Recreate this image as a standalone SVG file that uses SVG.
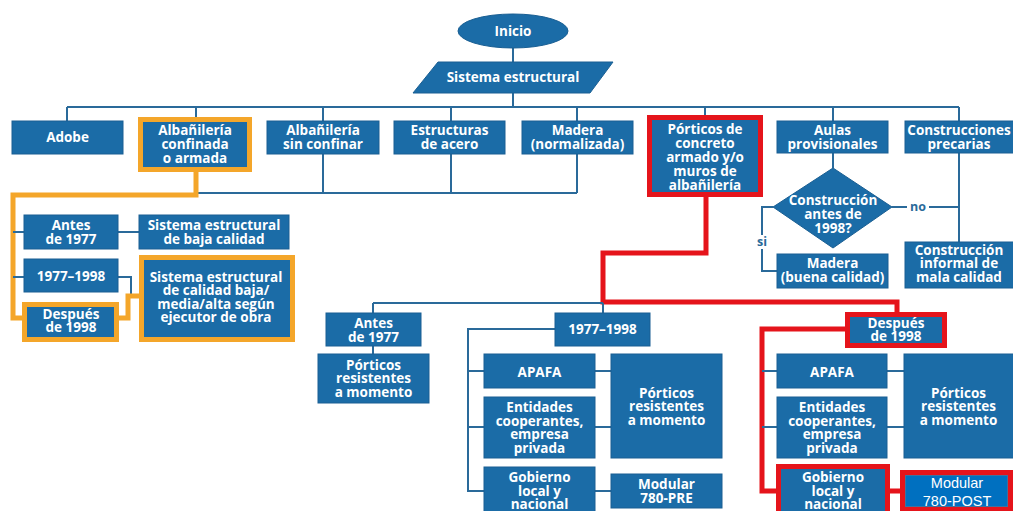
<svg xmlns="http://www.w3.org/2000/svg" width="1013" height="511" viewBox="0 0 1013 511">
<style>
.b{fill:#1b6ca7;stroke:#1a5f93;stroke-width:1}
.o{fill:#1b6ca7;stroke:#f4a62a;stroke-width:5}
.r{fill:#1b6ca7;stroke:#e5141b;stroke-width:5}
.t{font-family:"Open Sans","Noto Sans",sans-serif;font-weight:700;font-size:13.5px;fill:#ffffff;text-anchor:middle}
.lbl{font-family:"Open Sans","Noto Sans",sans-serif;font-weight:700;font-size:12.5px;fill:#2a6a9a;text-anchor:middle}
.c{fill:none;stroke:#2a6a9a;stroke-width:2}
.co{fill:none;stroke:#f4a62a;stroke-width:5}
.cr{fill:none;stroke:#e5141b;stroke-width:5}
</style>
<rect width="1013" height="511" fill="#ffffff"/>
<g id="connectors">
<path class="c" d="M513,48V62M513,93V107M67,107H959M67,107V121M196,107V117M323,107V121M451,107V121M577,107V121M705,107V115M833,107V121M959,107V121"/>
<path class="c" d="M196,193H577M323,154V193M451,154V193M577,154V193"/>
<path class="co" d="M196,172V195H13V318H24"/>
<path class="c" d="M13,232H24M13,277H24M118,232H139M118,277H131V296"/>
<path class="co" d="M117,318H128V296H141"/>
<path class="c" d="M833,153V168M892,207H907M929,207H959M959,153V242M773,207H762V235M762,249V271H777"/>
<path class="cr" d="M706,197V253H603V302H897V312"/>
<path class="c" d="M373,303H603M373,303V313M603,303V313M373,346V354"/>
<path class="c" d="M555,329H468V491H484M468,371H484M468,427H484M595,371H611M595,427H611M595,491H611"/>
<path class="cr" d="M847,329H762V491H778M888,491H902"/>
<path class="c" d="M762,371H777M762,427H777M887,371H904M887,427H904"/>
<text class="lbl" x="918" y="211">no</text>
<text class="lbl" x="762" y="246">si</text>
</g>
<g id="inicio"><ellipse cx="513" cy="31" rx="55" ry="17" class="b"/><text class="t" x="513" y="36">Inicio</text></g>
<g id="sistema"><polygon points="438,62 613,62 590,93 413,93" class="b"/><text class="t" x="513" y="82">Sistema estructural</text></g>
<g id="adobe"><rect x="12" y="121" width="111" height="33" class="b"/><text class="t" x="67.5" y="142">Adobe</text></g>
<g id="alb-conf"><rect x="140.5" y="119.5" width="109" height="50" class="o"/><text class="t" x="195"><tspan x="195" y="134.5">Albañilería</tspan><tspan x="195" y="148.5">confinada</tspan><tspan x="195" y="162.5">o armada</tspan></text></g>
<g id="alb-sin"><rect x="267" y="121" width="112" height="33" class="b"/><text class="t"><tspan x="323" y="134.5">Albañilería</tspan><tspan x="323" y="148.5">sin confinar</tspan></text></g>
<g id="acero"><rect x="394" y="121" width="111" height="33" class="b"/><text class="t"><tspan x="449.5" y="134.5">Estructuras</tspan><tspan x="449.5" y="148.5">de acero</tspan></text></g>
<g id="madera-n"><rect x="522" y="121" width="111" height="33" class="b"/><text class="t"><tspan x="577.5" y="134.5">Madera</tspan><tspan x="577.5" y="148.5">(normalizada)</tspan></text></g>
<g id="porticos"><rect x="649.5" y="117.5" width="111" height="77" class="r"/><text class="t"><tspan x="705" y="133.5">Pórticos de</tspan><tspan x="705" y="147.5">concreto</tspan><tspan x="705" y="161.5">armado y/o</tspan><tspan x="705" y="175.5">muros de</tspan><tspan x="705" y="189.5">albañilería</tspan></text></g>
<g id="aulas"><rect x="777" y="121" width="111" height="32" class="b"/><text class="t"><tspan x="832.5" y="134.5">Aulas</tspan><tspan x="832.5" y="148.5">provisionales</tspan></text></g>
<g id="precarias"><rect x="905" y="121" width="110" height="32" class="b"/><text class="t"><tspan x="959" y="134.5">Construcciones</tspan><tspan x="959" y="148.5">precarias</tspan></text></g>
<g id="decision"><polygon points="833,168 892,207 833,248 773,207" class="b"/><text class="t"><tspan x="833" y="204.5">Construcción</tspan><tspan x="833" y="218.5">antes de</tspan><tspan x="833" y="232.5">1998?</tspan></text></g>
<g id="madera-b"><rect x="777" y="254" width="111" height="34" class="b"/><text class="t"><tspan x="832.5" y="267.5">Madera</tspan><tspan x="832.5" y="281.5">(buena calidad)</tspan></text></g>
<g id="informal"><rect x="905" y="242" width="110" height="46" class="b"/><text class="t"><tspan x="959" y="254.5">Construcción</tspan><tspan x="959" y="268">informal de</tspan><tspan x="959" y="281.5">mala calidad</tspan></text></g>
<g id="l-antes"><rect x="24" y="215" width="94" height="34" class="b"/><text class="t"><tspan x="71" y="229.5">Antes</tspan><tspan x="71" y="243.5">de 1977</tspan></text></g>
<g id="l-baja"><rect x="139" y="215" width="150" height="34" class="b"/><text class="t"><tspan x="214" y="229.5">Sistema estructural</tspan><tspan x="214" y="243.5">de baja calidad</tspan></text></g>
<g id="l-7798"><rect x="24" y="259" width="94" height="33" class="b"/><text class="t" x="71" y="280.5">1977–1998</text></g>
<g id="l-despues"><rect x="24.5" y="304.5" width="92" height="35" class="o"/><text class="t"><tspan x="71" y="318.5">Después</tspan><tspan x="71" y="331.5">de 1998</tspan></text></g>
<g id="l-calidad"><rect x="141.5" y="257.5" width="151" height="82" class="o"/><text class="t"><tspan x="216" y="281.5">Sistema estructural</tspan><tspan x="216" y="295">de calidad baja/</tspan><tspan x="216" y="308.5">media/alta según</tspan><tspan x="216" y="322">ejecutor de obra</tspan></text></g>
<g id="m-antes"><rect x="326" y="313" width="95" height="33" class="b"/><text class="t"><tspan x="373.5" y="327.5">Antes</tspan><tspan x="373.5" y="341.5">de 1977</tspan></text></g>
<g id="m-porticos"><rect x="318" y="354" width="111" height="49" class="b"/><text class="t"><tspan x="373.5" y="369.5">Pórticos</tspan><tspan x="373.5" y="383">resistentes</tspan><tspan x="373.5" y="396.5">a momento</tspan></text></g>
<g id="m-7798"><rect x="555" y="313" width="95" height="33" class="b"/><text class="t" x="602.5" y="333.5">1977–1998</text></g>
<g id="m-apafa"><rect x="484" y="354" width="111" height="34" class="b"/><text class="t" x="539.5" y="376.5">APAFA</text></g>
<g id="m-entidades"><rect x="484" y="397" width="111" height="61" class="b"/><text class="t"><tspan x="539.5" y="411.5">Entidades</tspan><tspan x="539.5" y="425.5">cooperantes,</tspan><tspan x="539.5" y="439">empresa</tspan><tspan x="539.5" y="452.5">privada</tspan></text></g>
<g id="m-gobierno"><rect x="484" y="467" width="111" height="50" class="b"/><text class="t"><tspan x="539.5" y="481.5">Gobierno</tspan><tspan x="539.5" y="495.5">local y</tspan><tspan x="539.5" y="508.5">nacional</tspan></text></g>
<g id="m-porticos2"><rect x="611" y="354" width="111" height="104" class="b"/><text class="t"><tspan x="666.5" y="397.5">Pórticos</tspan><tspan x="666.5" y="411">resistentes</tspan><tspan x="666.5" y="424.5">a momento</tspan></text></g>
<g id="m-modular"><rect x="611" y="474" width="111" height="34" class="b"/><text class="t"><tspan x="666.5" y="488.5">Modular</tspan><tspan x="666.5" y="502.5">780-PRE</tspan></text></g>
<g id="r-despues"><rect x="847.5" y="314.5" width="97" height="31" class="r"/><text class="t"><tspan x="896" y="327.5">Después</tspan><tspan x="896" y="341">de 1998</tspan></text></g>
<g id="r-apafa"><rect x="777" y="354" width="110" height="34" class="b"/><text class="t" x="832" y="376.5">APAFA</text></g>
<g id="r-entidades"><rect x="777" y="397" width="110" height="61" class="b"/><text class="t"><tspan x="832" y="411.5">Entidades</tspan><tspan x="832" y="425.5">cooperantes,</tspan><tspan x="832" y="439">empresa</tspan><tspan x="832" y="452.5">privada</tspan></text></g>
<g id="r-porticos"><rect x="904" y="354" width="111" height="104" class="b"/><text class="t"><tspan x="958.5" y="397.5">Pórticos</tspan><tspan x="958.5" y="411">resistentes</tspan><tspan x="958.5" y="424.5">a momento</tspan></text></g>
<g id="r-gobierno"><rect x="778.5" y="466.5" width="109" height="50" class="r"/><text class="t"><tspan x="833" y="481.5">Gobierno</tspan><tspan x="833" y="495.5">local y</tspan><tspan x="833" y="508.5">nacional</tspan></text></g>
<g id="r-modular"><rect x="902.5" y="472.5" width="108" height="36" fill="#ffffff" stroke="#e5141b" stroke-width="5"/><rect x="905.5" y="475.5" width="102" height="31" fill="#0070c0" stroke="#41719c" stroke-width="1"/><text font-family="'Liberation Sans',Arial,sans-serif" font-size="14.5" fill="#ffffff" text-anchor="middle"><tspan x="957" y="488">Modular</tspan><tspan x="957" y="506">780-POST</tspan></text></g>
</svg>
